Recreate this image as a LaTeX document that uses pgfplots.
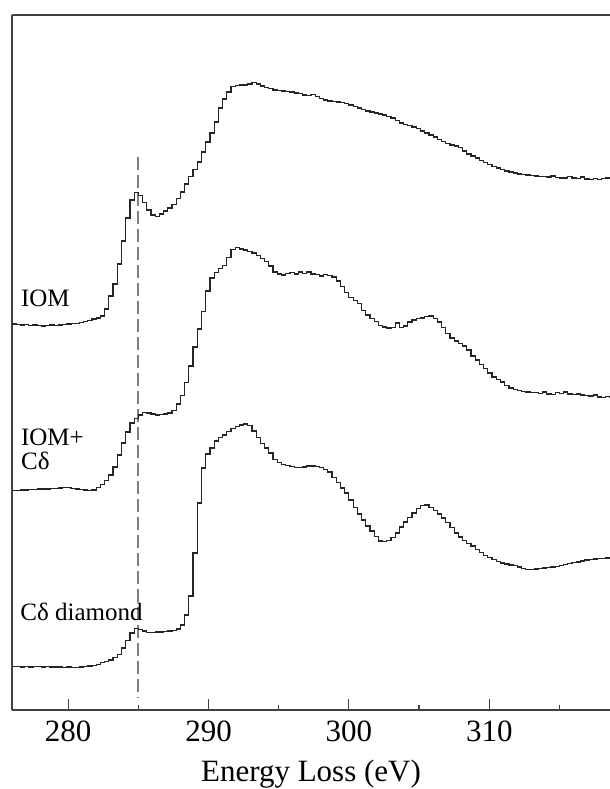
\documentclass[border=0pt]{standalone}
\usepackage{fontspec}
\setmainfont{Liberation Serif}
\usepackage{pgfplots}
\usepackage{pgfplotstable}
\pgfplotsset{compat=1.18}
\pgfplotstableread{
x iom mix dia
276.0 386 219.5 43.5
276.3 385.5 219.5 43.5
276.6 385 220 43
276.9 385.5 220 43.5
277.2 384.5 220.5 43
277.5 385 220.5 43.5
277.8 384.5 221 43.5
278.1 384 221 43
278.4 384.5 221 43.5
278.7 385 221.5 43
279.0 384.5 221.5 43
279.3 385 222 43
279.6 385.5 222.5 42.5
279.9 386 222.5 43
280.2 386.5 221.5 42.5
280.5 386.7 221 42.5
280.8 387.5 220.5 43
281.1 388.5 220 43.5
281.4 389.5 219.5 44
281.7 391 220 44.5
282.0 392 222.5 45.5
282.3 394 225.5 47.5
282.6 401 229.5 48.5
282.9 414 235 50
283.2 426 243 52.5
283.5 446 255 55.5
283.8 469 267 62
284.1 492 278 69.5
284.4 510 287 77
284.7 517.5 291.5 81.5
285.0 514.5 295 80.5
285.3 507.5 297.5 79
285.6 500 297 77.5
285.9 495 296 77.5
286.2 493.5 295 78
286.5 496 295.5 78
286.8 499 296 78.5
287.1 502 297 79
287.4 505.5 299.5 79.5
287.7 511.5 306 81
288.0 518 314.5 85
288.3 526 327.5 95
288.6 533.5 344 114
288.9 540.5 363 157
289.2 548 381 207
289.5 558 398.5 242
289.8 568 419 256
290.1 577 432 262
290.4 588 437.5 269
290.7 602 441.5 272.5
291.0 611 444.5 275
291.3 618 452.5 278.5
291.6 623.5 460.5 281.5
291.9 624.5 462.5 283.5
292.2 625 461 285
292.5 625 460 286
292.8 626 458.5 284.5
293.1 627.5 457 279
293.4 626 454.5 272.5
293.7 624 451.5 266.5
294.0 622.5 448.5 262
294.3 621.5 444 257
294.6 620 438 250.5
294.9 619.5 436 247.5
295.2 619 435 245.5
295.5 618.5 436.5 244.5
295.8 618 437.5 243.5
296.1 617 436 242.5
296.4 616.5 438 242.5
296.7 615 436.5 243
297.0 614.5 438 244
297.3 615.5 436 244
297.6 613.5 435.5 243.5
297.9 611.5 434 242.5
298.2 610 435.5 240.5
298.5 609 434.5 238
298.8 608.5 433 232.5
299.1 608 429 227.5
299.4 607.5 423.5 222
299.7 606.5 417.5 217
300.0 605 412.5 210
300.3 603.5 409.5 202.5
300.6 602 406.5 196
300.9 600.5 399.5 190
301.2 599 395 184
301.5 598 391.5 179
301.8 597 388.5 173.5
302.1 596 384.5 169
302.4 595 383 168.5
302.7 593.5 382 169.5
303.0 592 382.5 172.5
303.3 589.5 387 177
303.6 587 382.5 183
303.9 585.5 384 188
304.2 584.5 388 192.5
304.5 583 390 197
304.8 581.5 391.5 201.5
305.1 579 392 204.5
305.4 577 393.5 205
305.7 575 394 202.5
306.0 573 391.5 199.5
306.3 570.5 388 196
306.6 568.5 382.5 192
306.9 566.5 376.5 187.5
307.2 565 372 182.5
307.5 564 369 177
307.8 562.5 366.5 173
308.1 559 364 169.5
308.4 556 360 166.5
308.7 554 354 164
309.0 552 350 160.5
309.3 549.5 345.5 157.5
309.6 547.5 341.5 154.5
309.9 545.5 337 152.5
310.2 543.5 333 150.5
310.5 542 330.5 148.5
310.8 540.5 328 147
311.1 539 324.5 146
311.4 538 322 145
311.7 537 320.5 144.5
312.0 536 319.5 143
312.3 535.5 318.5 141.5
312.6 535 318 140.5
312.9 534.5 317.5 140.5
313.2 534 317.5 141
313.5 533.5 316.5 141.5
313.8 533.5 318 142
314.1 533 316 142.5
314.4 534 315.5 143
314.7 532.5 317.5 143.5
315.0 532 316.5 144.5
315.3 532 318 145.5
315.6 533.5 316 146.5
315.9 532 315.5 147.5
316.2 531.5 316 148
316.5 533 315 149
316.8 531 314.5 150
317.1 530.5 314 150.5
317.4 531.5 315 151
317.7 530.5 313 151.5
318.0 531.5 312.5 151.5
318.3 532 313.5 152
318.6 532 313 152
}\spectra
\begin{document}
\begin{tikzpicture}
\begin{axis}[
  scale only axis,
  width=299pt, height=347.5pt,
  xmin=276, xmax=318.6, ymin=0, ymax=695,
  axis x line*=box, axis y line*=left,
  axis line style={black!75, line width=0.6pt},
  xtick={280,290,300,310},
  minor xtick={285,295,305,315},
  xtick pos=left,
  ytick=\empty,
  tick align=inside,
  major tick length=5.3pt,
  minor tick length=2.4pt,
  every tick/.style={black!75, line width=0.6pt},
  /pgf/number format/assume math mode=true,
  xticklabel style={anchor=base, yshift=-15.85pt, font=\fontsize{15.5}{18}\selectfont},
  xlabel={Energy Loss (eV)},
  xlabel style={at={(axis description cs:0.5,0)}, anchor=base, yshift=-35.75pt, inner sep=0pt, font=\fontsize{15.5}{18}\selectfont},
  clip=true,
]
\addplot[black!50, line width=0.85pt, dash pattern=on 6.5pt off 2.5pt] coordinates {(285,553) (285,12)};
\addplot[const plot, black!85, line width=0.6pt] table[x=x, y=iom] {\spectra};
\addplot[const plot, black!85, line width=0.6pt] table[x=x, y=mix] {\spectra};
\addplot[const plot, black!85, line width=0.6pt] table[x=x, y=dia] {\spectra};
\node[anchor=base west, inner sep=0pt, font=\fontsize{12.5}{14}\selectfont] at (axis cs:276.62,403.3) {IOM};
\node[anchor=base west, inner sep=0pt, font=\fontsize{12.5}{14}\selectfont] at (axis cs:276.62,265) {IOM+};
\node[anchor=base west, inner sep=0pt, font=\fontsize{12.5}{14}\selectfont] at (axis cs:276.62,240.7) {Cδ};
\node[anchor=base west, inner sep=0pt, font=\fontsize{12.5}{14}\selectfont] at (axis cs:276.57,90) {Cδ diamond};
\coordinate (bl) at (rel axis cs:0,0);
\coordinate (tr) at (rel axis cs:1,1);
\end{axis}
\pgfresetboundingbox
\path[use as bounding box] ([shift={(-6pt,-39.5pt)}]bl) rectangle ([shift={(0pt,7.5pt)}]tr);
\end{tikzpicture}
\end{document}
